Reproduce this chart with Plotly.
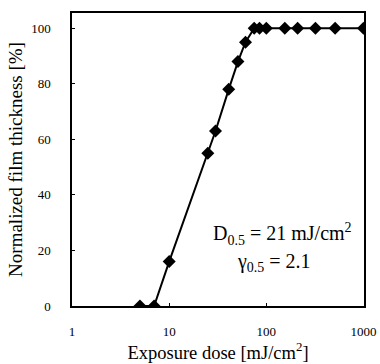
import plotly.graph_objects as go

dose = [5, 7, 10, 25, 30, 41, 51, 61, 75, 85, 100, 155, 210, 320, 510, 1000]
thickness = [0, 0, 16, 55, 63, 78, 88, 95, 100, 100, 100, 100, 100, 100, 100, 100]
x_ticks = [1, 10, 100, 1000]
y_ticks = [0, 20, 40, 60, 80, 100]

font_family = "Liberation Serif"

fig = go.Figure()
fig.add_trace(go.Scatter(
    x=dose, y=thickness, mode="lines+markers",
    line=dict(color="black", width=2),
    marker=dict(symbol="diamond", size=10, color="black"),
    showlegend=False,
))

fig.update_layout(
    width=380, height=364,
    margin=dict(l=72, r=16, t=13, b=58),
    paper_bgcolor="white", plot_bgcolor="white",
    font=dict(family=font_family, color="black", size=13),
    xaxis=dict(
        type="log", range=[0, 3.005],
        tickvals=x_ticks, ticktext=[str(v) for v in x_ticks],
        ticks="inside", ticklen=3, tickcolor="black",
        showline=True, linecolor="black", linewidth=1.5, mirror=True,
        showgrid=False, zeroline=False, automargin=False,
        ticklabelstandoff=13,
        tickfont=dict(size=13, family=font_family),
        title=dict(text="Exposure dose [mJ/cm<sup>2</sup>]", font=dict(size=18.5, family=font_family), standoff=3),
    ),
    yaxis=dict(
        range=[0, 105.5],
        tickvals=y_ticks,
        ticks="inside", ticklen=3, tickcolor="black",
        showline=True, linecolor="black", linewidth=1.5, mirror=True,
        showgrid=False, zeroline=False, automargin=False,
        ticklabelstandoff=17,
        tickfont=dict(size=13, family=font_family),
        title=dict(text="Normalized film thickness [%]", font=dict(size=19, family=font_family), standoff=4),
    ),
    annotations=[
        dict(text="D<sub>0.5</sub> = 21 mJ/cm<sup>2</sup>", xref="paper", yref="paper",
             x=0.721, y=0.245, xanchor="center", yanchor="middle", showarrow=False,
             font=dict(size=20, family=font_family)),
        dict(text="γ<sub>0.5</sub> = 2.1", xref="paper", yref="paper",
             x=0.692, y=0.148, xanchor="center", yanchor="middle", showarrow=False,
             font=dict(size=20, family=font_family)),
    ],
)

fig.write_html("out.html")
